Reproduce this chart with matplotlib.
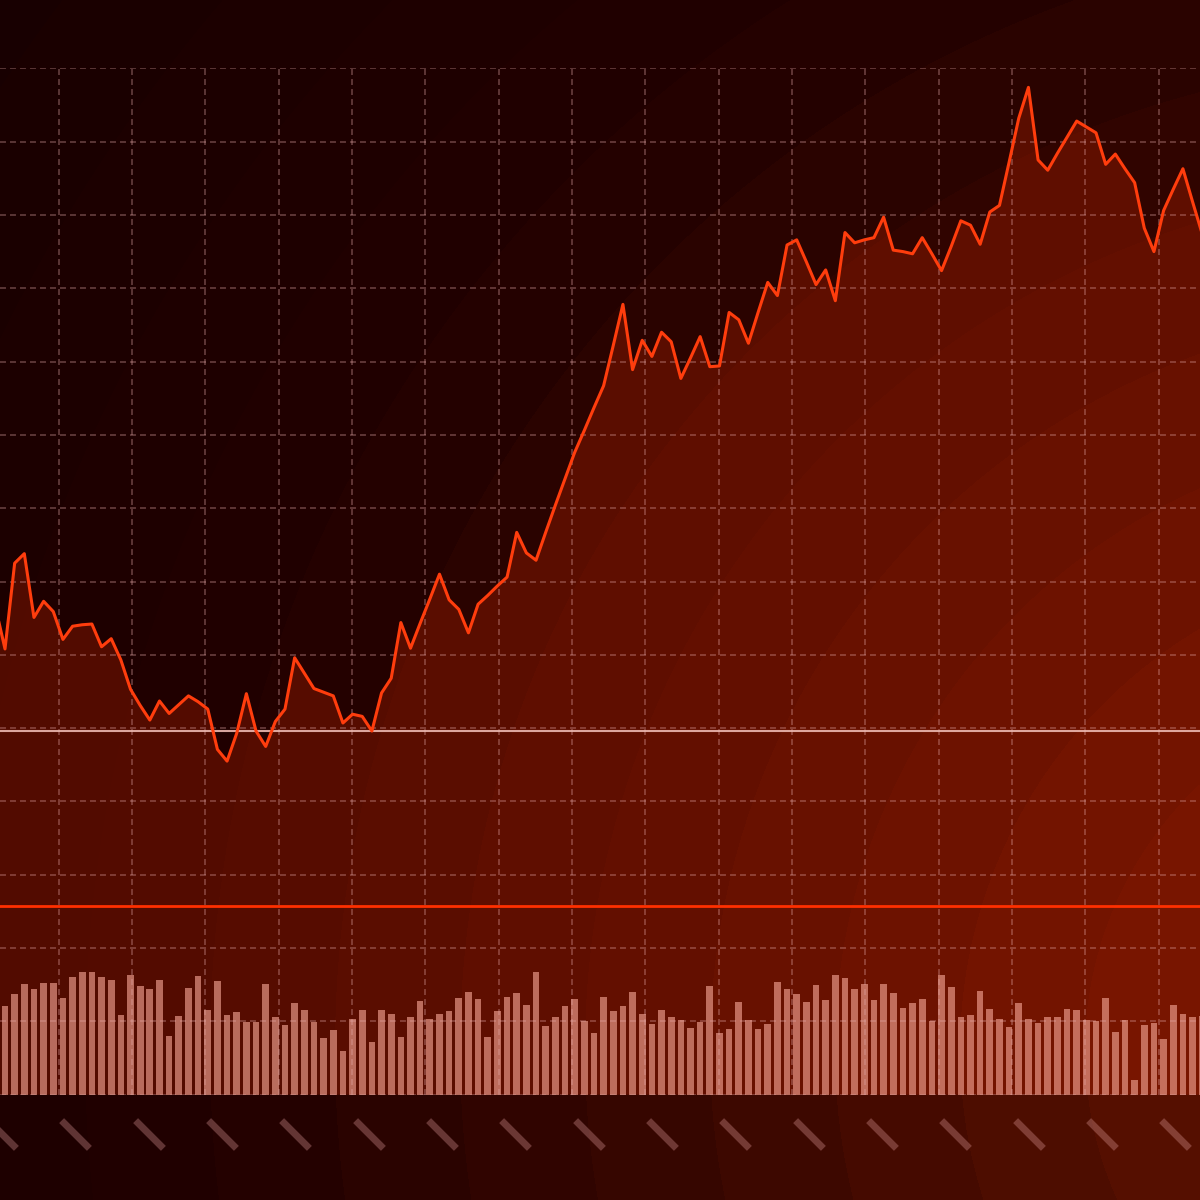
import matplotlib
matplotlib.use("Agg")
import matplotlib.pyplot as plt
import numpy as np
from matplotlib.path import Path

plt.rcParams['lines.scale_dashes'] = False

# closing price, one value per session (first point sits just left of the frame)
price = [66.6, 60.8, 72.5, 73.8, 65.1, 67.3, 65.9, 62.1, 63.9, 64.1,
         64.2, 61.1, 62.2, 59.3, 55.3, 53.1, 51.1, 53.7, 52.0, 53.2,
         54.4, 53.6, 52.6, 47.1, 45.5, 49.3, 54.7, 49.6, 47.5, 50.9,
         52.6, 59.6, 57.5, 55.4, 54.9, 54.4, 50.7, 51.9, 51.6, 49.6,
         54.8, 56.8, 64.4, 60.9, 64.3, 67.6, 71.0, 67.5, 66.2, 63.0,
         66.9, 68.1, 69.4, 70.6, 76.7, 73.9, 72.9, 76.7, 80.4, 84.0,
         87.6, 90.6, 93.7, 96.7, 102.2, 107.8, 98.9, 102.9, 100.7, 104.0,
         102.7, 97.7, 100.5, 103.4, 99.3, 99.4, 106.7, 105.7, 102.5, 106.7,
         110.8, 109.0, 115.9, 116.6, 113.6, 110.5, 112.5, 108.3, 117.6, 116.2,
         116.6, 116.9, 119.7, 115.2, 115.0, 114.7, 116.9, 114.7, 112.4, 115.7,
         119.2, 118.6, 116.0, 120.4, 121.3, 127.2, 133.2, 137.4, 127.5, 126.1,
         128.4, 130.6, 132.8, 132.0, 131.2, 126.9, 128.3, 126.3, 124.4, 118.2,
         115.0, 120.6, 123.5, 126.3, 121.8, 117.4]

# traded volume per session
volume = [89, 100.7, 111, 106, 111.3, 111.3, 96.7, 118, 122.3, 122.3,
          117.3, 114.3, 79.3, 119.3, 108.3, 106, 114.3, 59, 78.3, 106.7,
          118.7, 85, 114, 79.3, 82.7, 73, 73, 110.7, 78, 70,
          91.7, 85, 72.3, 56.7, 65, 43.7, 76, 84.3, 53, 84.3,
          81, 57.7, 78, 94, 75.7, 81, 84, 97, 103, 95.7,
          57.3, 84, 98, 102, 89.7, 122.7, 68.3, 78, 88.3, 95.7,
          73.3, 62, 98, 83.3, 88.3, 103, 81, 71, 84.7, 78,
          75, 66.3, 72.7, 109, 62, 65.3, 93, 75, 65.3, 71,
          112.7, 106, 100.7, 92.7, 109.3, 94.3, 119.3, 117, 106, 110.7,
          94.3, 110.7, 101.3, 87, 92, 96, 73.7, 119.3, 107.3, 77.7,
          79.3, 104, 86, 76, 67.3, 91.3, 76, 71.7, 77.3, 78,
          85.7, 84.3, 74.7, 73.7, 97, 63, 75, 14.7, 69.3, 72,
          55.7, 90, 81, 78, 78.7]

avg_level = 49.6    # light reference line
stop_level = 25.8   # red reference line

W, H = 1200, 1200
fig = plt.figure(figsize=(12, 12), dpi=100)

# ---- background: banded radial glow from the lower right
bg = fig.add_axes([0, 0, 1, 1])
yy, xx = np.mgrid[0:H, 0:W] + 0.5
r = np.hypot(xx - 1450, yy - 1050)
rq = 1240 - 125 * (np.floor((1240 - r) / 125) + 0.5)
r_pts = [0, 300, 700, 1000, 1240, 1800, 2400]
img = np.dstack([np.interp(rq, r_pts, [122, 86, 60, 45, 33, 25, 23]),
                 np.interp(rq, r_pts, [27, 16, 8, 4, 1, 0, 0]),
                 np.interp(rq, r_pts, [0, 0, 0, 0, 0, 1, 1])]) / 255
bg.imshow(img, extent=(0, W, H, 0), interpolation='nearest', aspect='auto')
bg.set_xlim(0, W)
bg.set_ylim(H, 0)
bg.set_axis_off()

rect = [0, 0.08775, 1, 0.85533]
xlim = (-0.518, 123.77)
xgrid = np.arange(5.562 - 7.595, 124, 7.595)

# ---- area under the price
ax_fill = fig.add_axes(rect)
ax_fill.patch.set_visible(False)
ax_fill.set_axis_off()
x = np.arange(-1, len(price) - 1)
ax_fill.fill_between(x, price, 0, color=(0.80, 0.15, 0.0), alpha=0.3, lw=0)
ax_fill.set_xlim(*xlim)
ax_fill.set_ylim(0, 140)

# ---- volume bars
ax_vol = fig.add_axes(rect, sharex=ax_fill)
ax_vol.patch.set_visible(False)
ax_vol.set_axis_off()
ax_vol.bar(np.arange(len(volume)), volume, width=0.69, color='#f0a090', alpha=0.65, lw=0)
ax_vol.set_ylim(0, 1026.4)

# ---- grid and lines
ax = fig.add_axes(rect, sharex=ax_fill, sharey=ax_fill)
ax.patch.set_visible(False)
for s in ax.spines.values():
    s.set_visible(False)
ax.set_xticks(xgrid)
ax.set_yticks(np.arange(0, 141, 10))
ax.tick_params(length=0, labelbottom=False, labelleft=False)
ax.grid(True, color=(0.9, 0.67, 0.67), alpha=0.4, lw=1.1, linestyle=(0, (4.3, 2.9)))
ax.axhline(avg_level, color='#ecb8b0', lw=1.5, alpha=0.9, zorder=3)
ax.axhline(stop_level, color='#ff3000', lw=2.0, zorder=3)
ax.plot(x, price, color='#ff3d0d', lw=2.2, zorder=4)
ax.set_xlim(*xlim)
ax.set_ylim(0, 140)

# ---- date strip with slanted tick marks
ax_d = fig.add_axes([0, 0, 1, 0.08775], sharex=ax_fill)
ax_d.patch.set_visible(False)
ax_d.set_axis_off()
slash = Path([(-1, 1), (1, -1)], [Path.MOVETO, Path.LINETO])
ax_d.plot(xgrid + 1.73, np.full(len(xgrid), 0.627), ls='none', marker=slash,
          ms=20, mew=5, mec=(0.9, 0.63, 0.63), alpha=0.33)
ax_d.set_ylim(0, 1)
ax_d.set_xlim(*xlim)

fig.savefig('out.png', dpi=100)
